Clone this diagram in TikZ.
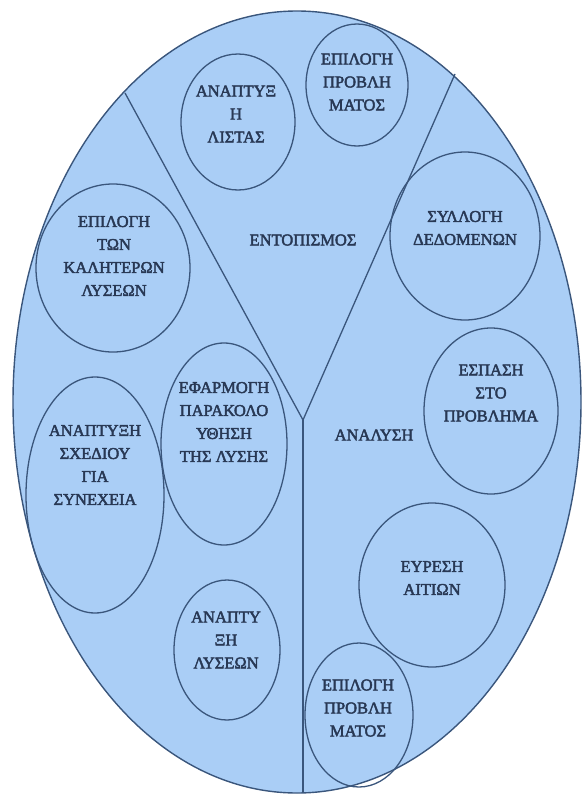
\documentclass[tikz,border=0pt]{standalone}
\usepackage{fontspec}
\setmainfont{Liberation Serif}
\newfontfamily\lblfont[FakeBold=2.5]{Liberation Serif}
\definecolor{ovalfill}{RGB}{170,206,246}
\definecolor{ovalline}{RGB}{58,86,124}
\definecolor{lbltext}{RGB}{40,56,84}
\tikzset{
    bigoval/.style={fill=ovalfill, draw=ovalline, line width=1.4pt},
    divider/.style={draw=ovalline, line width=1.3pt},
    bubble/.style={draw=ovalline, line width=1.3pt},
    lbl/.style={align=center, text=lbltext, font=\lblfont\fontsize{16.5}{23}\selectfont, inner sep=0pt}
}
\begin{document}
\begin{tikzpicture}[x=1pt,y=-1pt]
    \useasboundingbox (0,0) rectangle (586,798);
    \draw[bigoval] (297,402) ellipse [x radius=284, y radius=391];
    % the Y that splits the oval
    \coordinate (fork) at (303,420);
    \coordinate (topleft) at (125,93);
    \coordinate (topright) at (455,74);
    \coordinate (bottom) at (303,792);
    \draw[divider] (topleft)--(fork)--(topright);
    \draw[divider] (fork)--(bottom);
    \node[lbl] (entopismos) at (303,240) {ΕΝΤΟΠΙΣΜΟΣ};
    \node[lbl] (analysi) at (374,435) {ΑΝΑΛΥΣΗ};
    % bubbles
    \draw[bubble] (238,122) ellipse [x radius=57, y radius=68];
    \node[lbl] (lista) at (236,114) {ΑΝΑΠΤΥΞ\\Η\\ΛΙΣΤΑΣ};
    \draw[bubble] (357,85) ellipse [x radius=51, y radius=61];
    \node[lbl] (epilogiA) at (357,82) {ΕΠΙΛΟΓΗ\\ΠΡΟΒΛΗ\\ΜΑΤΟΣ};
    \draw[bubble] (465,236) ellipse [x radius=75, y radius=84];
    \node[lbl] (syllogi) at (465,228) {ΣΥΛΛΟΓΗ\\ΔΕΔΟΜΕΝΩΝ};
    \draw[bubble] (491,411) ellipse [x radius=67, y radius=83];
    \node[lbl] (espasi) at (491,393) {ΕΣΠΑΣΗ\\ΣΤΟ\\ΠΡΟΒΛΗΜΑ};
    \draw[bubble] (432,585) ellipse [x radius=73, y radius=82];
    \node[lbl] (aitia) at (432,578) {ΕΥΡΕΣΗ\\ΑΙΤΙΩΝ};
    \draw[bubble] (359,715) ellipse [x radius=54, y radius=72];
    \node[lbl] (epilogiB) at (358,708) {ΕΠΙΛΟΓΗ\\ΠΡΟΒΛΗ\\ΜΑΤΟΣ};
    \draw[bubble] (227,650) ellipse [x radius=53, y radius=70];
    \node[lbl] (lyseis) at (226,640) {ΑΝΑΠΤΥ\\ΞΗ\\ΛΥΣΕΩΝ};
    \draw[bubble] (95,495) ellipse [x radius=69, y radius=118];
    \node[lbl] (sxedio) at (95,465) {ΑΝΑΠΤΥΞΗ\\ΣΧΕΔΙΟΥ\\ΓΙΑ\\ΣΥΝΕΧΕΙΑ};
    \draw[bubble] (224,444) ellipse [x radius=63, y radius=101];
    \node[lbl] (efarmogi) at (224,422) {ΕΦΑΡΜΟΓΗ\\ΠΑΡΑΚΟΛΟ\\ΥΘΗΣΗ\\ΤΗΣ ΛΥΣΗΣ};
    \draw[bubble] (113,268) ellipse [x radius=77, y radius=84];
    \node[lbl] (kalyteres) at (114,256) {ΕΠΙΛΟΓΗ\\ΤΩΝ\\ΚΑΛΗΤΕΡΩΝ\\ΛΥΣΕΩΝ};
\end{tikzpicture}
\end{document}
